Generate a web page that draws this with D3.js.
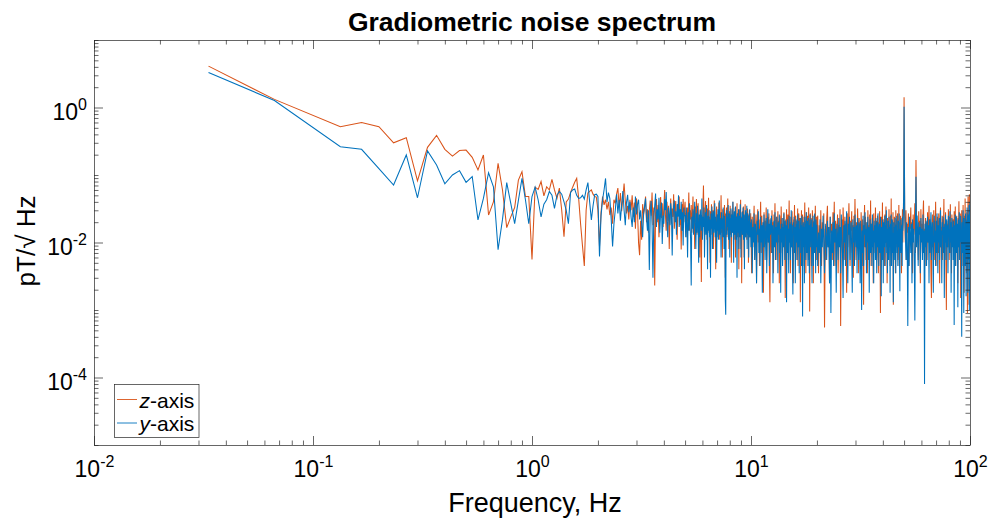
<!DOCTYPE html>
<html>
<head>
<meta charset="utf-8">
<script src="https://cdn.jsdelivr.net/npm/d3@7"></script>
<style>
  body { margin: 0; background: #fff; }
  svg { display: block; font-family: "Liberation Sans", Arial, Helvetica, sans-serif; }
</style>
</head>
<body>
<svg id="chart" width="993" height="520"></svg>
<script>
// FFT bin width, Hz (spectrum of a 30 s record)
const binWidth = 1 / 30;

// Low-frequency bins, drawn one by one
const lowBins = [1, 2, 4, 5, 6, 7, 8, 9, 10, 11, 12, 13, 14, 15, 16, 17, 18, 19, 20, 21, 22, 23, 24, 25, 26, 27, 28, 29, 30,
  31, 32, 33, 34, 35, 36, 37, 38, 39, 40, 41, 42, 43, 44, 45, 46, 47, 48, 49, 50, 51, 52, 53, 54, 55, 56, 57, 58, 59];

// all values below in fT/√Hz (1e-3 pT/√Hz)
const zLow = [4100, 1320, 520, 600, 520, 300, 357, 82, 257, 387, 240, 190, 230, 234, 183, 119, 198, 25.5, 40, 149, 60, 16.6,
  24, 33, 84, 112, 48, 48, 5.6, 66, 61, 80, 49, 67, 60, 86, 60, 45, 64, 30, 12.2, 40, 44, 55, 66, 78, 89, 45, 19, 9, 4.5,
  30, 54, 57, 60, 52, 48, 47];
const yLow = [3300, 1270, 263, 240, 124, 71, 198, 46, 227, 141, 74, 100, 116, 78, 95, 21.6, 45, 108, 67, 7.8, 22, 77, 38, 19,
  42, 89, 43, 19, 48, 66, 43, 24, 37, 43, 57, 50, 32, 50, 57, 52, 40, 30, 19, 55, 60, 62, 50, 45, 46, 50, 44, 60, 77, 40,
  21.6, 35, 51, 52];

// Dense part: each band starts at a bin and keeps every n-th bin
const bandStart = [60, 150, 300, 600, 1500];
const bandStep = [1, 1, 2, 5, 10];

// 2 - 5 Hz
const zBand1 = [30, 8.7, 28, 48, 36, 43, 31, 40, 25.5, 33, 19, 43, 38, 52, 64, 33, 54, 29, 46, 75, 41, 27, 35, 22, 43, 30,
  50, 24, 39, 16, 45, 28, 9.8, 6.5, 21, 11, 37, 26, 34, 48, 20, 31, 14, 30,
  42, 25, 55, 18, 33, 2.3, 27, 44, 20, 36, 12, 29, 47, 23, 38, 17, 33, 60, 26, 15, 40, 21, 35, 8, 28, 45, 19, 32, 24, 52,
  16, 30, 41, 22, 11, 34, 26, 48, 18, 29, 7.9, 37, 23, 44, 20, 31];
const yBand1 = [48, 6.2, 25, 43, 60, 89, 40, 55, 45, 22, 8.7, 19, 30, 52, 27, 43, 21, 36, 58, 30, 18, 39, 51, 28, 40, 24,
  17, 33, 20, 48, 26, 37, 43, 22, 30, 19, 12, 27, 34, 45, 23, 15, 30, 3.9,
  26, 41, 19, 3.0, 24, 35, 53, 17, 31, 22, 46, 14, 28, 39, 9.5, 25, 19, 44, 30, 56, 21, 12, 33, 26, 18, 38, 27, 6.4, 23,
  35, 42, 20, 29, 13, 37, 24, 50, 17, 31, 22, 40, 15, 28, 9, 33, 25];

// 5 - 10 Hz
const zBand2 = [40, 18, 27, 12, 33, 21, 55, 15, 30, 22, 36, 14, 25, 48, 17, 29, 8, 34, 20, 44,
  13, 26, 38, 16, 23, 6, 31, 19, 2.6, 24, 15, 35, 70, 22, 12, 28, 41, 17, 26, 11,
  32, 20, 46, 14, 24, 5, 29, 18, 37, 13, 22, 30, 8, 25, 42, 16, 21, 4, 27, 34,
  12, 19, 26, 15, 39, 20, 11, 28, 17, 50, 14, 23, 6, 31, 18, 25, 13, 36, 21, 3,
  27, 16, 33, 12, 22, 45, 15, 24, 8, 29, 19, 35, 13, 26, 5, 21, 30, 14, 40, 17,
  23, 11, 28, 18, 33, 6, 25, 15, 20, 38, 12, 27, 16, 22, 4, 31, 19, 14, 26, 43,
  8, 24, 2.5, 18, 29, 13, 21, 34, 15, 6, 25, 19, 37, 12, 23, 16, 28, 11, 20, 32,
  14, 26, 5, 22, 17, 30, 12, 24, 18, 27];
const yBand2 = [25, 12, 33, 18, 6, 28, 15, 38, 20, 11, 2.3, 24, 16, 31, 13, 22, 40, 17, 8, 27,
  14, 35, 19, 5, 26, 12, 30, 21, 15, 45, 11, 24, 17, 33, 6, 20, 28, 13, 36, 18,
  4, 25, 15, 30, 12, 22, 3, 27, 16, 34, 8, 21, 29, 14, 19, 38, 12, 24, 17, 5,
  26, 15, 31, 11, 20, 42, 13, 23, 18, 6, 28, 16, 22, 12, 33, 19, 8, 25, 14, 1.4,
  0.85, 21, 30, 13, 24, 17, 36, 11, 20, 27, 6, 23, 15, 32, 12, 19, 26, 14, 40, 18,
  5, 22, 29, 13, 17, 34, 11, 24, 16, 3, 27, 14, 21, 31, 8, 19, 25, 12, 37, 17,
  6, 23, 15, 28, 13, 20, 33, 11, 18, 26, 4, 22, 16, 30, 12, 24, 14, 35, 8, 19,
  27, 13, 21, 6, 25, 16, 31, 12, 20, 15];

// 10 - 20 Hz
const zBand3 = [16, 3.5, 24, 8.5, 19, 35, 5.5, 14, 26, 2.5, 20, 31, 10, 22, 4.5, 17, 40, 7, 25, 13,
  18, 1.8, 28, 8.5, 21, 15, 33, 5.5, 19, 24, 10, 27, 4.5, 1.3, 16, 23, 7, 30, 14, 20,
  3.5, 26, 13, 38, 8.5, 18, 24, 5.5, 15, 29, 10, 21, 2.5, 25, 17, 7, 34, 14, 19, 4.5,
  23, 13, 28, 8.5, 16, 1.5, 22, 15, 31, 7, 18, 26, 5.5, 14, 42, 10, 20, 3.5, 24, 16,
  8.5, 29, 13, 19, 2.5, 22, 15, 36, 7, 17, 25, 5.5, 14, 21, 10, 32, 4.5, 18, 27, 8.5,
  16, 23, 1.3, 20, 13, 30, 7, 15, 26, 4.5, 19, 10, 24, 17, 39, 8.5, 21, 3.5, 14, 28,
  7, 18, 25, 13, 5.5, 33, 16, 22, 0.95, 10, 27, 15, 20, 4.5, 23, 8.5, 30, 14, 17, 2.5,
  21, 13, 26, 7, 18, 35, 10, 19, 5.5, 24];
const yBand3 = [8.5, 22, 3.5, 17, 10, 27, 5.5, 19, 14, 2.5, 21, 13, 29, 7, 16, 4.5, 24, 10, 18, 1.8,
  20, 8.5, 26, 14, 5.5, 17, 23, 3.5, 15, 31, 10, 19, 4.5, 22, 13, 16, 25, 7, 18, 2.5,
  14, 21, 8.5, 28, 5.5, 17, 10, 24, 15, 3.5, 20, 13, 26, 7, 16, 1.8, 19, 10, 23, 4.5,
  17, 8.5, 27, 14, 5.5, 21, 13, 18, 1.3, 15, 22, 7, 16, 3.5, 25, 10, 19, 5.5, 14, 30,
  8.5, 18, 4.5, 1.7, 20, 13, 24, 7, 17, 2.5, 15, 22, 10, 19, 5.5, 26, 14, 8.5, 21, 3.5,
  16, 13, 23, 7, 18, 4.5, 25, 10, 0.8, 15, 20, 8.5, 17, 2.5, 24, 13, 19, 5.5, 28, 14,
  7, 21, 16, 4.5, 23, 10, 18, 3.5, 15, 26, 8.5, 19, 13, 22, 5.5, 2.5, 17, 10, 25, 4.5,
  14, 20, 7, 27, 13, 16, 3.5, 22, 8.5, 18];

// 20 - 50 Hz
const zBand4 = [10, 25, 3.5, 18, 7, 30, 4.5, 20, 13, 27, 0.55, 16, 5.5, 22, 35, 8.5, 17, 2.5, 24, 14,
  19, 5.5, 28, 10, 40, 4.5, 21, 15, 8.5, 26, 3.5, 18, 13, 31, 0.58, 14, 22, 7, 33, 16,
  5.5, 24, 10, 19, 1.8, 27, 8.5, 16, 38, 13, 4.5, 21, 15, 29, 7, 18, 3, 25, 10, 44,
  14, 5.5, 20, 8.5, 32, 16, 3.5, 23, 13, 19, 7, 28, 15, 4.5, 22, 10, 1.2, 17, 36, 8.5,
  24, 5.5, 14, 20, 3.5, 30, 13, 18, 7, 26, 10, 42, 4.5, 19, 15, 23, 8.5, 2.5, 27, 14,
  17, 7, 33, 13, 21, 5.5, 16, 25, 10, 3.5, 20, 14, 29, 8.5, 0.9, 18, 24, 7, 15, 39,
  5.5, 22, 13, 17, 4.5, 26, 10, 19, 34, 8.5, 16, 2.5, 23, 14, 20, 7, 31, 13, 18, 4.5,
  25, 10, 45, 5.5, 21, 15, 8.5, 28, 1.2, 17, 13, 24, 7, 19, 3.5, 30, 14, 22, 8.5, 16,
  27, 5.5, 18, 10, 36, 4.5, 20, 15, 8.5, 25, 13, 19, 3.5, 23, 16, 31, 10, 21, 35, 60];
const yBand4 = [18, 4.5, 14, 7, 22, 2.5, 16, 8.5, 25, 10, 3.5, 19, 13, 5.5, 21, 8.5, 17, 2.5, 24, 0.9,
  15, 7, 20, 4.5, 27, 10, 16, 1.8, 19, 13, 5.5, 23, 8.5, 17, 3.5, 26, 14, 7, 1.5, 18,
  10, 21, 4.5, 16, 29, 8.5, 2.5, 19, 13, 24, 5.5, 15, 20, 7, 1.8, 22, 10, 17, 4.5, 26,
  14, 8.5, 18, 3.5, 23, 13, 5.5, 20, 16, 2.5, 21, 10, 1.0, 15, 7, 25, 4.5, 18, 13, 28,
  8.5, 16, 3.5, 20, 10, 24, 5.5, 17, 1.8, 14, 22, 7, 19, 13, 4.5, 26, 8.5, 15, 2.5, 21,
  10, 18, 5.5, 23, 14, 3.5, 20, 8.5, 27, 13, 4.5, 16, 19, 7, 24, 10, 1.6, 17, 5.5, 22,
  14, 2.5, 20, 8.5, 15, 25, 4.5, 18, 10, 30, 7, 16, 3.5, 21, 13, 5.5, 24, 8.5, 17, 1.8,
  19, 10, 26, 4.5, 15, 22, 7, 14, 1.3, 20, 8.5, 17, 5.5, 23, 13, 3.5, 18, 10, 25, 7,
  15, 4.5, 21, 14, 8.5, 27, 5.5, 1.9, 16, 10, 22, 7, 18, 13, 4.5, 24, 15, 19, 30, 55];

// 50 - 100 Hz (mains line at 50 Hz)
const zBand5 = [1420, 25, 10, 30, 5.5, 19, 14, 27, 4.5, 22, 16, 33, 8.5, 20, 3.5, 26, 13, 18, 38, 7,
  167, 24, 10, 17, 5.5, 29, 15, 21, 2.5, 31, 13, 19, 7, 25, 42, 8.5, 16, 4.5, 23, 14,
  20, 5.5, 28, 10, 17, 35, 7, 22, 15, 3.5, 1.5, 18, 26, 8.5, 14, 30, 5.5, 21, 13, 40,
  10, 19, 4.5, 24, 16, 7, 27, 14, 2.5, 20, 33, 8.5, 17, 13, 25, 5.5, 22, 15, 44, 7,
  18, 10, 28, 4.5, 1.0, 21, 14, 19, 8.5, 31, 16, 5.5, 24, 13, 37, 7, 20, 3.5, 26, 15,
  10, 22, 17, 5.5, 29, 14, 8.5, 34, 4.5, 19, 13, 25, 7, 18, 2.5, 23, 15, 41, 8.5, 20,
  5.5, 27, 1.5, 16, 10, 30, 4.5, 21, 14, 36, 7, 18, 1.8, 25, 13, 45, 5.5, 22, 16, 3.5,
  28, 10, 0.9, 19, 48, 8.5, 24, 1.2, 52, 15, 30];
const yBand5 = [1030, 30, 14, 5.5, 20, 8.5, 0.58, 17, 4.5, 24, 13, 7, 19, 2.5, 22, 10, 16, 5.5, 0.7, 18,
  94, 8.5, 25, 14, 4.5, 20, 13, 17, 3.5, 23, 10, 16, 5.5, 26, 7, 15, 0.08, 19, 8.5, 21,
  4.5, 14, 24, 10, 18, 2.5, 22, 7, 16, 28, 5.5, 13, 20, 8.5, 1.8, 17, 25, 10, 15, 4.5,
  21, 7, 27, 14, 3.5, 18, 10, 23, 5.5, 16, 30, 8.5, 15, 2.5, 20, 13, 24, 7, 17, 1.5,
  19, 10, 26, 5.5, 14, 22, 8.5, 18, 3.5, 25, 13, 16, 7, 29, 10, 20, 1.8, 15, 23, 8.5,
  17, 5.5, 21, 14, 0.6, 18, 10, 26, 4.5, 16, 24, 7, 19, 13, 1.1, 22, 8.5, 15, 28, 5.5,
  18, 10, 25, 14, 3.5, 0.4, 20, 7, 16, 30, 8.5, 0.9, 23, 13, 17, 4.5, 27, 10, 1.6, 21,
  7, 33, 14, 1.8, 19, 26, 5.5, 36, 1.0, 15, 40];

const seriesNames = ['z', 'y'];
const seriesColors = ['#D95319', '#0072BD'];

// Build the points of one series
function buildSeries(low, bands) {
  const pts = lowBins.map((b, i) => ({ f: b * binWidth, v: low[i] / 1000 }));
  bands.forEach((vals, s) => {
    vals.forEach((v, i) => {
      pts.push({ f: (bandStart[s] + i * bandStep[s]) * binWidth, v: v / 1000 });
    });
  });
  return pts;
}

const series = [
  buildSeries(zLow, [zBand1, zBand2, zBand3, zBand4, zBand5]),
  buildSeries(yLow, [yBand1, yBand2, yBand3, yBand4, yBand5])
];

// Plot box
const plotLeft = 94, plotRight = 970, plotTop = 40, plotBottom = 445;
const axisColor = '#262626';

const x = d3.scaleLog().domain([1e-2, 1e2]).range([plotLeft, plotRight]);
const y = d3.scaleLog().domain([1e-5, 1e1]).range([plotBottom, plotTop]);

const svg = d3.select('#chart');
svg.append('rect').attr('width', 993).attr('height', 520).attr('fill', '#fff');

svg.append('clipPath').attr('id', 'plot-clip')
  .append('rect')
  .attr('x', plotLeft).attr('y', plotTop)
  .attr('width', plotRight - plotLeft).attr('height', plotBottom - plotTop);

// Spectrum lines, z first so y sits on top
const line = d3.line().x((d) => x(d.f)).y((d) => y(d.v));
series.forEach((pts, i) => {
  svg.append('path')
    .datum(pts)
    .attr('clip-path', 'url(#plot-clip)')
    .attr('d', line)
    .attr('fill', 'none')
    .attr('stroke', seriesColors[i])
    .attr('stroke-width', 1.05)
    .attr('stroke-linejoin', 'miter');
});

// Ticks
const isPow10 = (t) => Math.abs(Math.log10(t) - Math.round(Math.log10(t))) < 1e-9;
const xMajor = x.ticks().filter(isPow10);
const xMinor = x.ticks().filter((t) => !isPow10(t));
const yLabelled = [1e-4, 1e-2, 1e0];
const yMinor = y.ticks().filter((t) => !yLabelled.includes(t));

function drawTicks(axis, values, size, dx, dy) {
  svg.append('g')
    .attr('transform', `translate(${dx},${dy})`)
    .call(axis.tickValues(values).tickSize(size).tickFormat(''))
    .call((g) => g.select('.domain').remove())
    .call((g) => g.selectAll('text').remove())
    .selectAll('line')
    .attr('stroke', axisColor)
    .attr('stroke-width', 0.7);
}

drawTicks(d3.axisBottom(x), xMajor, -9, 0, plotBottom);
drawTicks(d3.axisBottom(x), xMinor, -4.5, 0, plotBottom);
drawTicks(d3.axisTop(x), xMajor, -9, 0, plotTop);
drawTicks(d3.axisTop(x), xMinor, -4.5, 0, plotTop);
drawTicks(d3.axisLeft(y), yLabelled, -9, plotLeft, 0);
drawTicks(d3.axisLeft(y), yMinor, -4.5, plotLeft, 0);
drawTicks(d3.axisRight(y), yLabelled, -9, plotRight, 0);
drawTicks(d3.axisRight(y), yMinor, -4.5, plotRight, 0);

svg.append('rect')
  .attr('x', plotLeft + 0.5).attr('y', plotTop + 0.5)
  .attr('width', plotRight - plotLeft).attr('height', plotBottom - plotTop)
  .attr('fill', 'none')
  .attr('stroke', axisColor)
  .attr('stroke-width', 0.7);

// Tick labels as 10^n
function powerLabel(text, t) {
  text.append('tspan').text('10');
  text.append('tspan')
    .attr('dy', -10)
    .attr('font-size', 16)
    .text(String(Math.round(Math.log10(t))));
}

xMajor.forEach((t) => {
  svg.append('text')
    .attr('x', x(t) + 0.5)
    .attr('y', 477)
    .attr('text-anchor', 'middle')
    .attr('font-size', 23)
    .attr('fill', '#000')
    .call(powerLabel, t);
});

yLabelled.forEach((t) => {
  svg.append('text')
    .attr('x', 87)
    .attr('y', y(t) + 12)
    .attr('text-anchor', 'end')
    .attr('font-size', 23)
    .attr('fill', '#000')
    .call(powerLabel, t);
});

// Titles
svg.append('text')
  .attr('x', 532).attr('y', 31)
  .attr('text-anchor', 'middle')
  .attr('font-size', 26.5)
  .attr('font-weight', 'bold')
  .text('Gradiometric noise spectrum');

svg.append('text')
  .attr('x', 535).attr('y', 512)
  .attr('text-anchor', 'middle')
  .attr('font-size', 27)
  .text('Frequency, Hz');

svg.append('text')
  .attr('transform', 'translate(35,241) rotate(-90)')
  .attr('text-anchor', 'middle')
  .attr('font-size', 26)
  .text('pT/√ Hz');

// Legend
const legend = svg.append('g').attr('transform', 'translate(114.5,384.5)');
legend.append('rect')
  .attr('width', 84.5).attr('height', 53)
  .attr('fill', '#fff')
  .attr('stroke', axisColor)
  .attr('stroke-width', 0.7);

seriesNames.forEach((name, i) => {
  const ly = 15 + i * 23.5;
  legend.append('line')
    .attr('x1', 2.5).attr('x2', 22.5)
    .attr('y1', ly).attr('y2', ly)
    .attr('stroke', seriesColors[i])
    .attr('stroke-width', 0.9);
  const label = legend.append('text')
    .attr('x', 25).attr('y', ly + 8)
    .attr('font-size', 21);
  label.append('tspan').attr('font-style', 'italic').text(name);
  label.append('tspan').text('-axis');
});
</script>
</body>
</html>
